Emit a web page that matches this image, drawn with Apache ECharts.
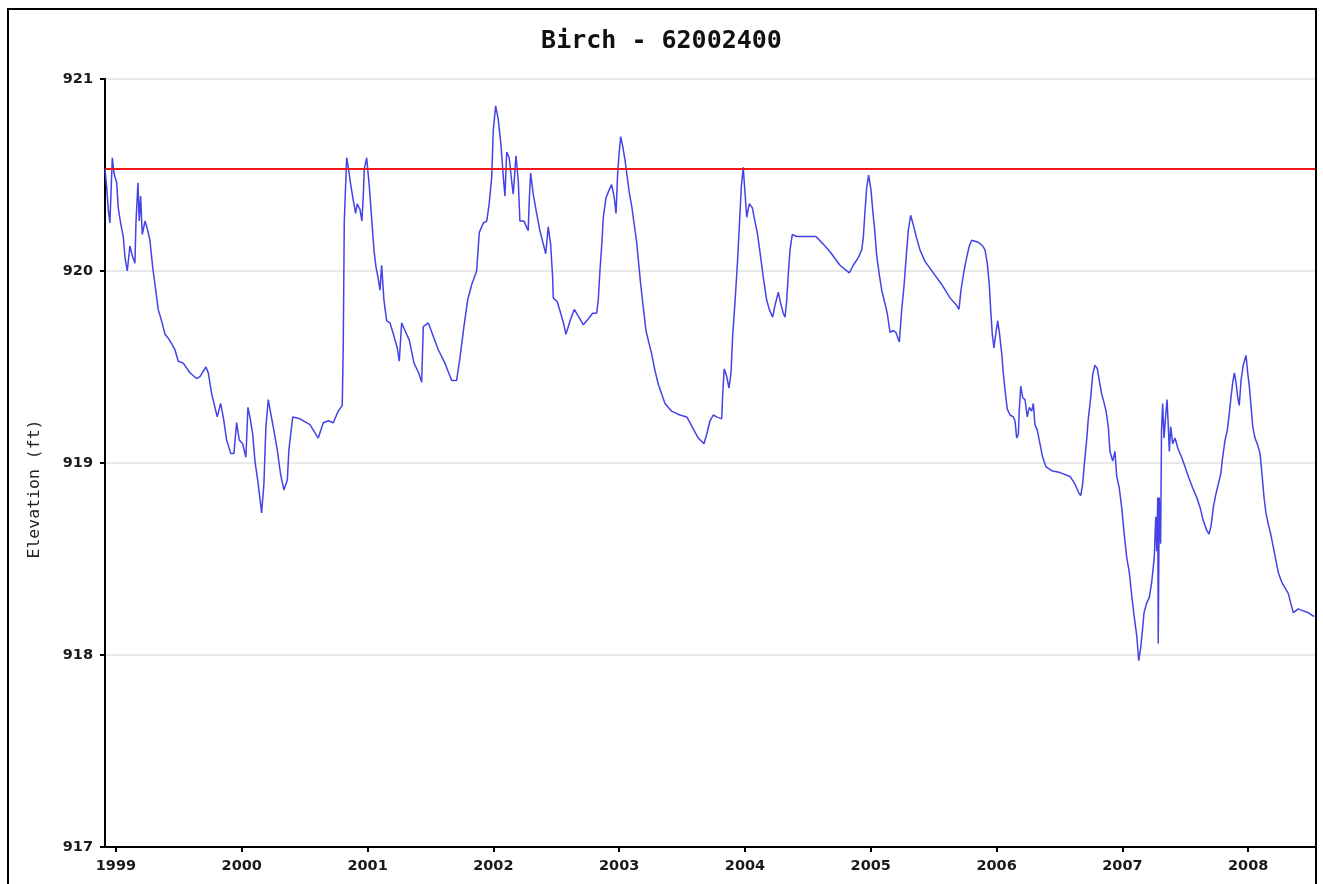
<!DOCTYPE html>
<html>
<head>
<meta charset="utf-8">
<title>Birch - 62002400</title>
<script src="https://cdn.jsdelivr.net/npm/echarts@6/dist/echarts.min.js"></script>
<style>
html, body { margin: 0; padding: 0; background: #fff; }
#chart { width: 1323px; height: 884px; }
</style>
</head>
<body>
<div id="chart"></div>
<script>
var chartTitle = 'Birch - 62002400';
var yAxisName = 'Elevation (ft)';
var yearTicks = [1999, 2000, 2001, 2002, 2003, 2004, 2005, 2006, 2007, 2008];
var xMin = 1998.913;
var xMax = 2008.531;
var yMin = 917;
var yMax = 921;
var referenceLevel = 920.53;

// decimal year of each reading
var years = [
    1998.913, 1998.926, 1998.939, 1998.952, 1998.971, 1998.984, 1999.006, 1999.018, 1999.037, 1999.058,
    1999.072, 1999.090, 1999.111, 1999.130, 1999.151, 1999.159, 1999.175, 1999.185, 1999.196, 1999.209,
    1999.231, 1999.249, 1999.270, 1999.292, 1999.310, 1999.336, 1999.363, 1999.390, 1999.416, 1999.443,
    1999.469, 1999.495, 1999.535, 1999.588, 1999.641, 1999.668, 1999.715, 1999.734, 1999.761, 1999.787,
    1999.805, 1999.832, 1999.853, 1999.880, 1999.912, 1999.938, 1999.959, 1999.980, 2000.007, 2000.033,
    2000.049, 2000.065, 2000.087, 2000.105, 2000.131, 2000.158, 2000.176, 2000.192, 2000.211, 2000.230,
    2000.250, 2000.282, 2000.309, 2000.335, 2000.362, 2000.375, 2000.405, 2000.463, 2000.542, 2000.608,
    2000.648, 2000.688, 2000.727, 2000.767, 2000.799, 2000.807, 2000.815, 2000.828, 2000.834, 2000.847,
    2000.866, 2000.886, 2000.905, 2000.918, 2000.940, 2000.955, 2000.966, 2000.974, 2000.993, 2001.014,
    2001.033, 2001.051, 2001.067, 2001.085, 2001.099, 2001.112, 2001.130, 2001.152, 2001.178, 2001.210,
    2001.236, 2001.252, 2001.271, 2001.297, 2001.332, 2001.369, 2001.406, 2001.430, 2001.443, 2001.483,
    2001.522, 2001.562, 2001.615, 2001.669, 2001.708, 2001.735, 2001.766, 2001.796, 2001.828, 2001.867,
    2001.888, 2001.920, 2001.947, 2001.965, 2001.987, 2001.999, 2002.018, 2002.039, 2002.060, 2002.079,
    2002.092, 2002.106, 2002.126, 2002.145, 2002.158, 2002.180, 2002.198, 2002.211, 2002.243, 2002.277,
    2002.285, 2002.296, 2002.317, 2002.344, 2002.370, 2002.397, 2002.416, 2002.436, 2002.455, 2002.471,
    2002.476, 2002.508, 2002.535, 2002.561, 2002.577, 2002.609, 2002.643, 2002.680, 2002.715, 2002.754,
    2002.789, 2002.821, 2002.834, 2002.847, 2002.861, 2002.874, 2002.895, 2002.919, 2002.940, 2002.959,
    2002.975, 2002.988, 2002.998, 2003.012, 2003.028, 2003.046, 2003.064, 2003.080, 2003.099, 2003.118,
    2003.139, 2003.152, 2003.171, 2003.192, 2003.213, 2003.231, 2003.258, 2003.285, 2003.311, 2003.338,
    2003.364, 2003.417, 2003.483, 2003.537, 2003.563, 2003.595, 2003.629, 2003.674, 2003.696, 2003.722,
    2003.748, 2003.775, 2003.815, 2003.823, 2003.835, 2003.855, 2003.873, 2003.889, 2003.902, 2003.920,
    2003.939, 2003.955, 2003.971, 2003.986, 2004.000, 2004.014, 2004.034, 2004.058, 2004.079, 2004.098,
    2004.119, 2004.145, 2004.172, 2004.193, 2004.220, 2004.238, 2004.265, 2004.284, 2004.304, 2004.318,
    2004.331, 2004.344, 2004.358, 2004.376, 2004.411, 2004.564, 2004.622, 2004.676, 2004.755, 2004.829,
    2004.861, 2004.901, 2004.928, 2004.940, 2004.954, 2004.967, 2004.983, 2005.002, 2005.015, 2005.033,
    2005.047, 2005.068, 2005.087, 2005.113, 2005.131, 2005.153, 2005.179, 2005.200, 2005.227, 2005.246,
    2005.264, 2005.280, 2005.298, 2005.317, 2005.338, 2005.365, 2005.391, 2005.431, 2005.497, 2005.564,
    2005.630, 2005.683, 2005.701, 2005.717, 2005.741, 2005.762, 2005.783, 2005.802, 2005.855, 2005.890,
    2005.908, 2005.926, 2005.942, 2005.953, 2005.966, 2005.979, 2005.993, 2006.009, 2006.022, 2006.041,
    2006.053, 2006.067, 2006.085, 2006.107, 2006.133, 2006.146, 2006.160, 2006.173, 2006.180, 2006.192,
    2006.208, 2006.226, 2006.244, 2006.260, 2006.279, 2006.292, 2006.305, 2006.324, 2006.345, 2006.366,
    2006.393, 2006.438, 2006.504, 2006.584, 2006.623, 2006.649, 2006.669, 2006.684, 2006.697, 2006.716,
    2006.729, 2006.748, 2006.764, 2006.782, 2006.801, 2006.816, 2006.835, 2006.848, 2006.870, 2006.888,
    2006.901, 2006.923, 2006.941, 2006.955, 2006.975, 2006.994, 2007.013, 2007.034, 2007.055, 2007.074,
    2007.092, 2007.114, 2007.130, 2007.146, 2007.161, 2007.172, 2007.193, 2007.214, 2007.233, 2007.246,
    2007.254, 2007.265, 2007.273, 2007.281, 2007.285, 2007.293, 2007.304, 2007.311, 2007.320, 2007.331,
    2007.341, 2007.355, 2007.365, 2007.373, 2007.384, 2007.400, 2007.418, 2007.444, 2007.471, 2007.498,
    2007.524, 2007.559, 2007.591, 2007.617, 2007.643, 2007.670, 2007.688, 2007.704, 2007.723, 2007.744,
    2007.762, 2007.781, 2007.797, 2007.816, 2007.834, 2007.850, 2007.863, 2007.877, 2007.890, 2007.903,
    2007.917, 2007.929, 2007.943, 2007.961, 2007.983, 2007.996, 2008.009, 2008.022, 2008.036, 2008.054,
    2008.072, 2008.094, 2008.107, 2008.126, 2008.141, 2008.160, 2008.179, 2008.200, 2008.221, 2008.239,
    2008.266, 2008.293, 2008.319, 2008.338, 2008.359, 2008.378, 2008.398, 2008.438, 2008.478, 2008.525
];

// lake elevation (ft)
var elevation = [
    920.53, 920.44, 920.32, 920.25, 920.59, 920.51, 920.46, 920.33, 920.25, 920.18,
    920.07, 920.00, 920.13, 920.08, 920.04, 920.25, 920.46, 920.26, 920.39, 920.19,
    920.26, 920.22, 920.16, 920.02, 919.93, 919.80, 919.74, 919.67, 919.65, 919.62,
    919.59, 919.53, 919.52, 919.47, 919.44, 919.45, 919.50, 919.47, 919.36, 919.29,
    919.24, 919.31, 919.24, 919.12, 919.05, 919.05, 919.21, 919.12, 919.10, 919.03,
    919.29, 919.24, 919.15, 919.01, 918.89, 918.74, 918.89, 919.19, 919.33, 919.26,
    919.19, 919.07, 918.94, 918.86, 918.91, 919.07, 919.24, 919.23, 919.20, 919.13,
    919.21, 919.22, 919.21, 919.27, 919.30, 919.62, 920.26, 920.26, 920.59, 920.54,
    920.45, 920.37, 920.30, 920.35, 920.32, 920.26, 920.39, 920.53, 920.59, 920.44,
    920.27, 920.11, 920.02, 919.96, 919.90, 920.03, 919.85, 919.74, 919.73, 919.66,
    919.60, 919.53, 919.73, 919.69, 919.64, 919.52, 919.47, 919.42, 919.71, 919.73,
    919.66, 919.59, 919.52, 919.43, 919.43, 919.55, 919.71, 919.85, 919.93, 920.00,
    920.20, 920.25, 920.26, 920.34, 920.49, 920.73, 920.86, 920.79, 920.66, 920.49,
    920.39, 920.62, 920.59, 920.47, 920.40, 920.60, 920.47, 920.26, 920.26, 920.21,
    920.36, 920.51, 920.40, 920.30, 920.21, 920.14, 920.09, 920.23, 920.14, 919.97,
    919.86, 919.84, 919.78, 919.72, 919.67, 919.74, 919.80, 919.76, 919.72, 919.75,
    919.78, 919.78, 919.85, 920.00, 920.13, 920.28, 920.38, 920.42, 920.45, 920.39,
    920.30, 920.51, 920.60, 920.70, 920.65, 920.58, 920.49, 920.41, 920.34, 920.25,
    920.15, 920.06, 919.93, 919.81, 919.69, 919.64, 919.57, 919.48, 919.41, 919.36,
    919.31, 919.27, 919.25, 919.24, 919.21, 919.17, 919.13, 919.10, 919.15, 919.22,
    919.25, 919.24, 919.23, 919.36, 919.49, 919.45, 919.39, 919.47, 919.66, 919.83,
    920.03, 920.23, 920.44, 920.54, 920.41, 920.28, 920.35, 920.33, 920.26, 920.20,
    920.10, 919.97, 919.85, 919.80, 919.76, 919.82, 919.89, 919.83, 919.78, 919.76,
    919.84, 919.98, 920.11, 920.19, 920.18, 920.18, 920.14, 920.10, 920.03, 919.99,
    920.03, 920.07, 920.11, 920.17, 920.31, 920.43, 920.50, 920.42, 920.32, 920.20,
    920.08, 919.98, 919.90, 919.83, 919.78, 919.68, 919.69, 919.68, 919.63, 919.80,
    919.92, 920.06, 920.21, 920.29, 920.24, 920.17, 920.11, 920.05, 919.99, 919.93,
    919.86, 919.82, 919.80, 919.90, 920.00, 920.07, 920.13, 920.16, 920.15, 920.13,
    920.11, 920.04, 919.93, 919.80, 919.67, 919.60, 919.67, 919.74, 919.68, 919.57,
    919.47, 919.38, 919.28, 919.25, 919.24, 919.22, 919.13, 919.15, 919.27, 919.40,
    919.34, 919.33, 919.24, 919.29, 919.27, 919.31, 919.20, 919.17, 919.10, 919.03,
    918.98, 918.96, 918.95, 918.93, 918.89, 918.85, 918.83, 918.89, 918.99, 919.12,
    919.23, 919.34, 919.46, 919.51, 919.49, 919.43, 919.36, 919.33, 919.27, 919.19,
    919.06, 919.01, 919.06, 918.93, 918.87, 918.77, 918.64, 918.51, 918.43, 918.31,
    918.21, 918.10, 917.97, 918.04, 918.14, 918.22, 918.27, 918.30, 918.38, 918.46,
    918.52, 918.72, 918.54, 918.82, 918.06, 918.82, 918.58, 919.17, 919.31, 919.13,
    919.22, 919.33, 919.19, 919.06, 919.19, 919.10, 919.13, 919.07, 919.03, 918.98,
    918.93, 918.87, 918.82, 918.77, 918.70, 918.65, 918.63, 918.67, 918.77, 918.84,
    918.89, 918.94, 919.03, 919.12, 919.17, 919.26, 919.34, 919.42, 919.47, 919.42,
    919.34, 919.30, 919.43, 919.51, 919.56, 919.47, 919.40, 919.30, 919.19, 919.13,
    919.10, 919.05, 918.96, 918.82, 918.74, 918.68, 918.63, 918.56, 918.49, 918.43,
    918.38, 918.35, 918.32, 918.27, 918.22, 918.23, 918.24, 918.23, 918.22, 918.20
];

var chart = echarts.init(document.getElementById('chart'));

var seriesData = [];
for (var i = 0; i < years.length; i++) {
    seriesData.push([years[i], elevation[i]]);
}

var labelFont = 'DejaVu Sans';

var option = {
    animation: false,
    backgroundColor: '#fff',
    title: {
        text: chartTitle,
        left: 'center',
        top: 24,
        textStyle: {
            fontFamily: 'DejaVu Sans Mono',
            fontWeight: 'bold',
            fontSize: 25,
            color: '#111'
        }
    },
    graphic: [
        {
            type: 'rect',
            silent: true,
            shape: { x: 8, y: 9, width: 1308, height: 900 },
            style: { fill: 'none', stroke: '#000', lineWidth: 2 }
        },
        {
            // axis title sits a little below the middle of the plot
            type: 'text',
            silent: true,
            x: 35,
            y: 489,
            rotation: Math.PI / 2,
            style: {
                text: yAxisName,
                fontFamily: 'DejaVu Sans Mono',
                fontSize: 16.5,
                fill: '#222',
                align: 'center',
                verticalAlign: 'middle'
            }
        }
    ],
    grid: {
        left: 105,
        right: 8,
        top: 79,
        bottom: 37
    },
    xAxis: {
        type: 'value',
        min: xMin,
        max: xMax,
        axisLine: { lineStyle: { color: '#000', width: 2 } },
        axisTick: {
            customValues: yearTicks,
            length: 5,
            lineStyle: { color: '#000', width: 2 }
        },
        axisLabel: {
            customValues: yearTicks,
            formatter: function (v) { return String(Math.round(v)); },
            margin: 12,
            fontFamily: labelFont,
            fontWeight: 'bold',
            fontSize: 14.5,
            color: '#1a1a1a'
        },
        splitLine: { show: false }
    },
    yAxis: {
        type: 'value',
        min: yMin,
        max: yMax,
        interval: 1,
        axisLine: { show: true, lineStyle: { color: '#000', width: 2 } },
        axisTick: { show: true, length: 5, lineStyle: { color: '#000', width: 2 } },
        axisLabel: {
            margin: 12,
            fontFamily: labelFont,
            fontWeight: 'bold',
            fontSize: 14.5,
            color: '#1a1a1a'
        },
        splitLine: { lineStyle: { color: '#e8e8e8', width: 2 } }
    },
    series: [
        {
            name: 'Elevation',
            type: 'line',
            data: seriesData,
            showSymbol: false,
            lineStyle: { color: '#4343e6', width: 1.5 },
            itemStyle: { color: '#4343e6' },
            markLine: {
                silent: true,
                symbol: ['none', 'none'],
                label: { show: false },
                lineStyle: { color: '#f01818', type: 'solid', width: 2 },
                data: [{ yAxis: referenceLevel }]
            }
        }
    ]
};

chart.setOption(option);
</script>
</body>
</html>
